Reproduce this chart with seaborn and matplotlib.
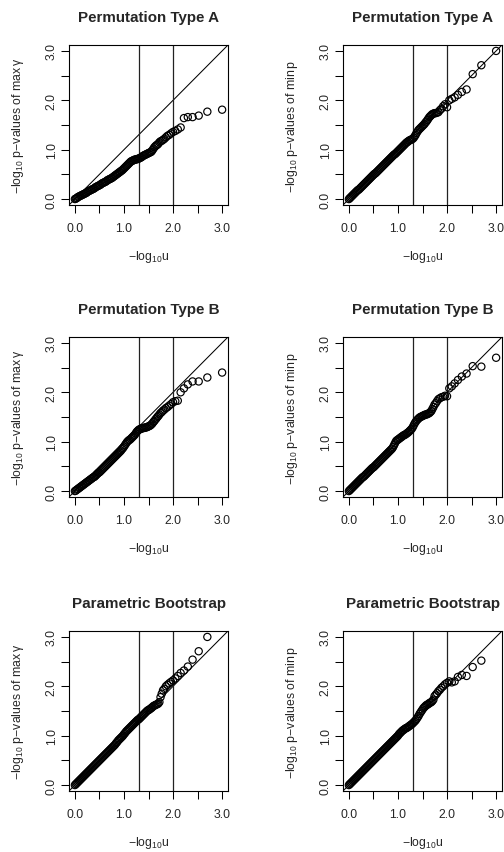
import numpy as np
import pandas as pd
import seaborn as sns
from matplotlib import pyplot as plt

# -log10 of the uniform quantiles (dense body, then the individual tail points)
neg_log_u = [
    0.00, 0.02, 0.04, 0.06, 0.08, 0.10, 0.12, 0.14, 0.16, 0.18,
    0.20, 0.22, 0.24, 0.26, 0.28, 0.30, 0.32, 0.34, 0.36, 0.38,
    0.40, 0.42, 0.44, 0.46, 0.48, 0.50, 0.52, 0.54, 0.56, 0.58,
    0.60, 0.62, 0.64, 0.66, 0.68, 0.70, 0.72, 0.74, 0.76, 0.78,
    0.80, 0.82, 0.84, 0.86, 0.88, 0.90, 0.92, 0.94, 0.96, 0.98,
    1.00, 1.02, 1.04, 1.06, 1.08, 1.10, 1.12, 1.14, 1.16, 1.18,
    1.20, 1.22, 1.24, 1.26, 1.28, 1.30, 1.32, 1.34, 1.36, 1.38,
    1.40, 1.42, 1.44, 1.46, 1.48, 1.50, 1.52, 1.54, 1.56, 1.58,
    1.60, 1.62, 1.64, 1.66, 1.68,
    1.700, 1.722, 1.745, 1.770, 1.796, 1.824, 1.854, 1.886, 1.921, 1.959,
    2.000, 2.046, 2.097, 2.155, 2.222, 2.301, 2.398, 2.523, 2.699, 3.000,
]

# -log10 p-values, one list per panel (same ordering as neg_log_u)
perm_a_maxgamma = [
    0.00, 0.01, 0.02, 0.04, 0.05, 0.06, 0.07, 0.08, 0.09, 0.10,
    0.11, 0.12, 0.13, 0.15, 0.16, 0.17, 0.18, 0.19, 0.20, 0.21,
    0.22, 0.24, 0.25, 0.26, 0.27, 0.28, 0.29, 0.31, 0.32, 0.33,
    0.34, 0.35, 0.36, 0.38, 0.39, 0.40, 0.41, 0.42, 0.43, 0.45,
    0.46, 0.48, 0.49, 0.51, 0.52, 0.54, 0.55, 0.57, 0.58, 0.60,
    0.62, 0.64, 0.66, 0.68, 0.70, 0.72, 0.74, 0.76, 0.77, 0.78,
    0.79, 0.80, 0.80, 0.81, 0.81, 0.82, 0.83, 0.84, 0.85, 0.87,
    0.88, 0.89, 0.90, 0.91, 0.92, 0.93, 0.94, 0.95, 0.96, 0.99,
    1.02, 1.05, 1.07, 1.09, 1.10,
    1.12, 1.15, 1.17, 1.18, 1.20, 1.22, 1.25, 1.28, 1.30, 1.33,
    1.36, 1.38, 1.41, 1.45, 1.64, 1.66, 1.66, 1.69, 1.77, 1.81,
]
perm_a_minp = [
    0.00, 0.02, 0.04, 0.06, 0.08, 0.10, 0.12, 0.14, 0.16, 0.18,
    0.19, 0.21, 0.23, 0.25, 0.27, 0.29, 0.31, 0.33, 0.35, 0.37,
    0.39, 0.41, 0.43, 0.45, 0.47, 0.49, 0.51, 0.52, 0.54, 0.56,
    0.58, 0.60, 0.62, 0.64, 0.66, 0.68, 0.70, 0.72, 0.74, 0.76,
    0.78, 0.80, 0.82, 0.84, 0.86, 0.88, 0.90, 0.91, 0.93, 0.95,
    0.97, 0.99, 1.01, 1.03, 1.05, 1.07, 1.09, 1.11, 1.13, 1.15,
    1.16, 1.18, 1.19, 1.20, 1.21, 1.22, 1.24, 1.27, 1.30, 1.34,
    1.37, 1.40, 1.42, 1.44, 1.46, 1.48, 1.50, 1.52, 1.55, 1.57,
    1.60, 1.63, 1.66, 1.68, 1.70,
    1.72, 1.73, 1.74, 1.74, 1.75, 1.76, 1.80, 1.83, 1.88, 1.92,
    1.86, 2.00, 2.03, 2.06, 2.11, 2.17, 2.22, 2.53, 2.71, 3.00,
]
perm_b_maxgamma = [
    0.00, 0.01, 0.03, 0.04, 0.06, 0.07, 0.09, 0.10, 0.12, 0.13,
    0.15, 0.16, 0.18, 0.19, 0.21, 0.22, 0.24, 0.25, 0.27, 0.28,
    0.29, 0.31, 0.33, 0.35, 0.37, 0.38, 0.40, 0.42, 0.44, 0.46,
    0.48, 0.50, 0.52, 0.54, 0.56, 0.58, 0.60, 0.62, 0.64, 0.66,
    0.68, 0.70, 0.72, 0.74, 0.76, 0.78, 0.80, 0.82, 0.85, 0.87,
    0.90, 0.93, 0.96, 0.99, 1.01, 1.03, 1.04, 1.06, 1.08, 1.10,
    1.12, 1.14, 1.17, 1.20, 1.22, 1.24, 1.25, 1.26, 1.27, 1.27,
    1.28, 1.28, 1.29, 1.29, 1.30, 1.31, 1.32, 1.33, 1.35, 1.37,
    1.40, 1.42, 1.45, 1.47, 1.50,
    1.52, 1.55, 1.58, 1.60, 1.63, 1.65, 1.68, 1.70, 1.73, 1.76,
    1.80, 1.82, 1.83, 2.00, 2.08, 2.16, 2.22, 2.22, 2.30, 2.40,
]
perm_b_minp = [
    0.00, 0.02, 0.04, 0.06, 0.08, 0.10, 0.12, 0.14, 0.16, 0.18,
    0.20, 0.22, 0.24, 0.26, 0.28, 0.29, 0.31, 0.33, 0.35, 0.37,
    0.39, 0.41, 0.43, 0.45, 0.47, 0.48, 0.50, 0.52, 0.54, 0.56,
    0.58, 0.60, 0.62, 0.64, 0.66, 0.68, 0.70, 0.72, 0.74, 0.76,
    0.78, 0.80, 0.82, 0.84, 0.86, 0.89, 0.93, 0.97, 1.01, 1.03,
    1.04, 1.06, 1.07, 1.09, 1.10, 1.12, 1.13, 1.14, 1.15, 1.17,
    1.18, 1.20, 1.22, 1.24, 1.26, 1.29, 1.33, 1.37, 1.40, 1.43,
    1.45, 1.47, 1.49, 1.50, 1.51, 1.52, 1.53, 1.54, 1.55, 1.55,
    1.56, 1.57, 1.58, 1.60, 1.62,
    1.66, 1.70, 1.75, 1.78, 1.82, 1.86, 1.88, 1.90, 1.91, 1.93,
    1.92, 2.08, 2.12, 2.18, 2.25, 2.32, 2.38, 2.53, 2.52, 2.70,
]
boot_maxgamma = [
    0.00, 0.02, 0.04, 0.06, 0.08, 0.10, 0.12, 0.14, 0.16, 0.18,
    0.20, 0.22, 0.24, 0.26, 0.28, 0.30, 0.32, 0.34, 0.36, 0.38,
    0.40, 0.42, 0.44, 0.46, 0.48, 0.50, 0.52, 0.54, 0.56, 0.58,
    0.60, 0.62, 0.64, 0.66, 0.68, 0.70, 0.72, 0.74, 0.76, 0.78,
    0.80, 0.82, 0.85, 0.87, 0.90, 0.92, 0.94, 0.96, 0.98, 1.00,
    1.03, 1.05, 1.08, 1.10, 1.12, 1.14, 1.16, 1.18, 1.20, 1.22,
    1.24, 1.26, 1.28, 1.30, 1.32, 1.33, 1.35, 1.37, 1.39, 1.41,
    1.43, 1.45, 1.47, 1.49, 1.51, 1.52, 1.53, 1.55, 1.56, 1.58,
    1.60, 1.61, 1.62, 1.63, 1.64,
    1.65, 1.68, 1.78, 1.85, 1.92, 1.95, 2.00, 2.03, 2.06, 2.09,
    2.12, 2.16, 2.21, 2.27, 2.32, 2.40, 2.54, 2.71, 3.00, 3.40,
]
boot_minp = [
    0.00, 0.02, 0.04, 0.06, 0.08, 0.10, 0.12, 0.14, 0.16, 0.18,
    0.20, 0.22, 0.24, 0.26, 0.28, 0.30, 0.32, 0.34, 0.36, 0.38,
    0.40, 0.42, 0.44, 0.46, 0.48, 0.50, 0.52, 0.54, 0.56, 0.58,
    0.60, 0.62, 0.64, 0.66, 0.68, 0.70, 0.72, 0.74, 0.76, 0.78,
    0.80, 0.82, 0.84, 0.86, 0.88, 0.90, 0.92, 0.94, 0.96, 0.98,
    1.00, 1.03, 1.05, 1.07, 1.09, 1.11, 1.12, 1.14, 1.15, 1.16,
    1.17, 1.19, 1.20, 1.22, 1.23, 1.25, 1.27, 1.29, 1.31, 1.34,
    1.37, 1.40, 1.44, 1.47, 1.50, 1.53, 1.56, 1.58, 1.60, 1.62,
    1.63, 1.64, 1.66, 1.67, 1.68,
    1.70, 1.73, 1.80, 1.83, 1.86, 1.90, 1.93, 1.97, 2.00, 2.04,
    2.07, 2.10, 2.08, 2.10, 2.19, 2.23, 2.21, 2.39, 2.52, 3.40,
]

titles = ["Permutation Type A", "Permutation Type A",
          "Permutation Type B", "Permutation Type B",
          "Parametric Bootstrap", "Parametric Bootstrap"]
series = [perm_a_maxgamma, perm_a_minp, perm_b_maxgamma, perm_b_minp,
          boot_maxgamma, boot_minp]
ylabels = [r"$-\mathrm{log}_{10}$ p$-$values of max$\,\gamma$",
           r"$-\mathrm{log}_{10}$ p$-$values of min$\,$p"]
xlabel = r"$-\mathrm{log}_{10}\mathrm{u}$"
alpha_levels = [0.05, 0.01]
ticks = [0.0, 0.5, 1.0, 1.5, 2.0, 2.5, 3.0]
ticklabels = ["0.0", "", "1.0", "", "2.0", "", "3.0"]

sns.set_style("white")
plt.rcParams["font.family"] = ["Liberation Sans", "DejaVu Sans"]
plt.rcParams["mathtext.fontset"] = "custom"
plt.rcParams["mathtext.rm"] = "Liberation Sans"
plt.rcParams["mathtext.it"] = "Liberation Sans:italic"
plt.rcParams["mathtext.default"] = "rm"

fig = plt.figure(figsize=(5.04, 8.53), dpi=100)

W, H = 504, 853
col_x = [69, 343]
row_top = [46, 338, 632]
box = 159

for i, (title, vals) in enumerate(zip(titles, series)):
    r, c = divmod(i, 2)
    ax = fig.add_axes([col_x[c] / W, 1 - (row_top[r] + box + 1) / H,
                       box / W, (box + 1) / H])
    df = pd.DataFrame({"u": neg_log_u, "p": vals})
    sns.scatterplot(data=df, x="u", y="p", ax=ax, marker="o", s=27,
                    facecolor="none", edgecolor="black", linewidth=0.85,
                    zorder=3)
    ax.axline((0, 0), (1, 1), color="black", lw=0.75)
    for a in alpha_levels:
        ax.axvline(-np.log10(a), color="#222222", lw=0.9)
    ax.set_xlim(-0.12, 3.12)
    ax.set_ylim(-0.12, 3.12)
    ax.set_xticks(ticks)
    ax.set_xticklabels(ticklabels)
    ax.set_yticks(ticks)
    ax.set_yticklabels(ticklabels, rotation=90, va="center")
    ax.tick_params(direction="out", length=5.5, width=0.75, labelsize=8.8,
                   left=True, bottom=True, color="black")
    ax.tick_params(axis="x", pad=6.5)
    ax.tick_params(axis="y", pad=2.5)
    for sp in ax.spines.values():
        sp.set_visible(True)
        sp.set_color("black")
        sp.set_linewidth(0.8)
    ax.set_xlabel(xlabel, fontsize=8.8)
    ax.set_ylabel(ylabels[c], fontsize=8.8)
    ax.xaxis.set_label_coords(0.5, -51 / 160)
    ax.xaxis.label.set_va("center")
    ax.yaxis.set_label_coords(-51 / 159, 0.5)
    ax.yaxis.label.set_va("center")
    ax.text(0.5, 1 + 28 / 160, title, transform=ax.transAxes,
            ha="center", va="center", fontsize=10.9, fontweight="bold")

fig.savefig("out.png", dpi=100)
